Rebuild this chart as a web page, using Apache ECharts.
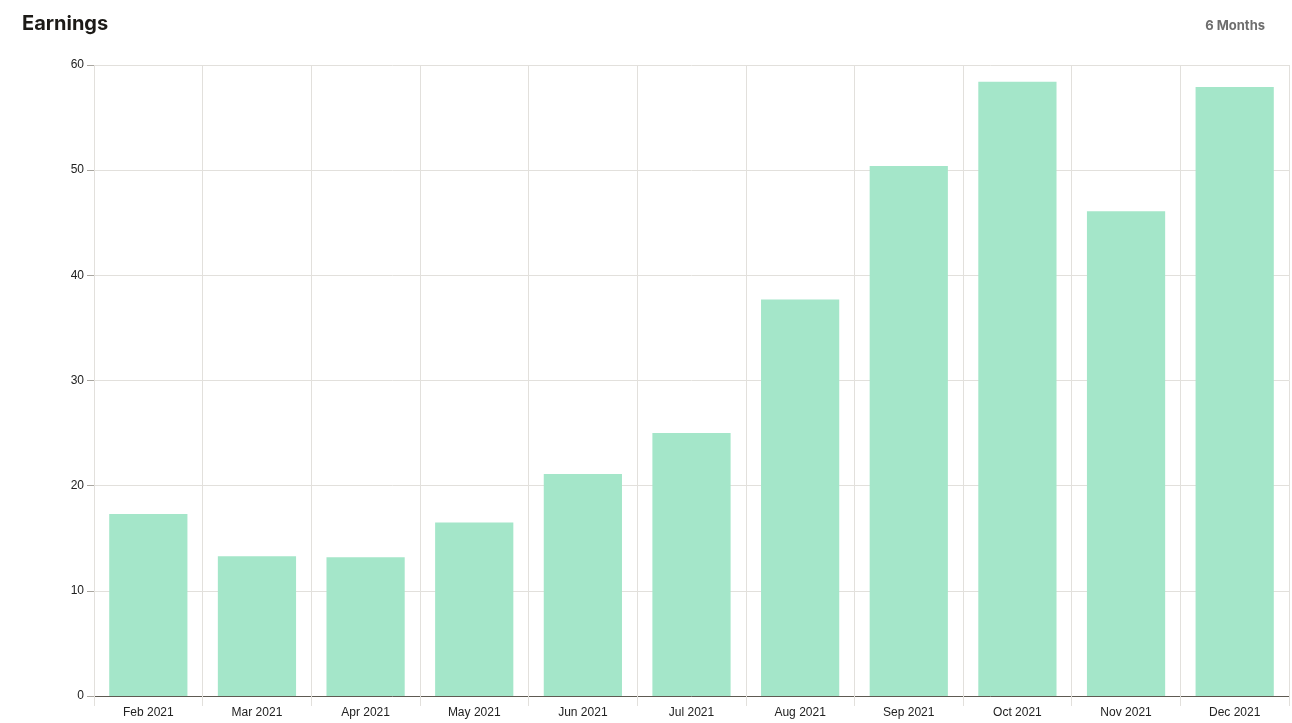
<!DOCTYPE html>
<html>
<head>
<meta charset="utf-8">
<script src="https://cdn.jsdelivr.net/npm/echarts@6/dist/echarts.min.js"></script>
<style>
html,body{margin:0;padding:0;background:#fff;}
#chart{width:1292px;height:723px;}
</style>
</head>
<body>
<div id="chart"></div>
<script>
var months = ['Feb 2021','Mar 2021','Apr 2021','May 2021','Jun 2021','Jul 2021','Aug 2021','Sep 2021','Oct 2021','Nov 2021','Dec 2021'];
var earnings = [17.3, 13.3, 13.2, 16.5, 21.1, 25.0, 37.7, 50.4, 58.4, 46.1, 57.9];

var chart = echarts.init(document.getElementById('chart'));
chart.setOption({
	animation: false,
	title: [{
		text: 'Earnings',
		left: 22, top: 14, padding: 0,
		textStyle: {fontFamily: 'Inter', fontSize: 20, fontWeight: 'bold', color: '#1c1a17'}
	},{
		text: '6 Months',
		right: 27, top: 20, padding: 0,
		textStyle: {fontFamily: 'Inter', fontSize: 13, fontWeight: 'bold', color: '#6e6e6e'}
	}],
	grid: {left: 94, right: 3, top: 65, bottom: 27},
	xAxis: {
		type: 'category',
		data: months,
		axisLine: {lineStyle: {color: '#5e5a52', width: 1}},
		axisTick: {show: true, length: 10, lineStyle: {color: '#e2e0dc'}},
		splitLine: {show: true, lineStyle: {color: '#e2e0dc'}},
		axisLabel: {color: '#222', fontFamily: 'Liberation Sans', fontSize: 12, margin: 11}
	},
	yAxis: {
		type: 'value',
		min: 0, max: 60, interval: 10,
		axisLine: {show: false},
		axisTick: {show: true, length: 7, lineStyle: {color: '#a9a6a0'}},
		splitLine: {lineStyle: {color: '#e2e0dc'}},
		axisLabel: {color: '#222', fontFamily: 'Liberation Sans', fontSize: 12, margin: 10}
	},
	series: [{
		type: 'bar',
		data: earnings,
		barCategoryGap: '28%',
		itemStyle: {color: '#a4e6c9'}
	}]
});
</script>
</body>
</html>
